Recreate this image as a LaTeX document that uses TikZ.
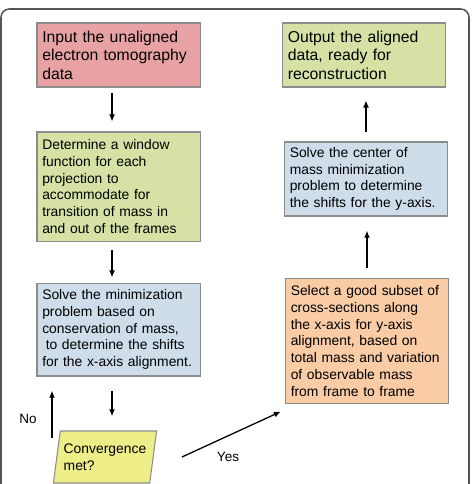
\documentclass[tikz,border=0pt]{standalone}
\usepackage{fontspec}
\setmainfont{Liberation Sans}
\usetikzlibrary{shapes.geometric,arrows.meta,positioning,calc}
\hyphenpenalty=10000
\definecolor{inred}{RGB}{233,162,163}
\definecolor{stepgreen}{RGB}{214,225,166}
\definecolor{stepblue}{RGB}{207,221,235}
\definecolor{steporange}{RGB}{249,204,166}
\definecolor{convyellow}{RGB}{238,238,136}
\definecolor{boxgray}{RGB}{140,140,140}
\definecolor{framegray}{RGB}{85,85,85}
\tikzset{
  box/.style={rectangle, draw=boxgray, line width=0.9pt, align=left,
              inner xsep=4.5pt, text width=129.6pt,
              font=\fontsize{11.8}{14.2}\selectfont},
  bigbox/.style={box, font=\fontsize{13.4}{15.7}\selectfont},
  dec/.style={trapezium, trapezium left angle=79, trapezium right angle=101,
              trapezium stretches=true, draw=boxgray, line width=0.9pt, fill=convyellow,
              align=left, inner xsep=2pt, minimum width=88.4pt, minimum height=44.2pt,
              font=\fontsize{11.8}{14.2}\selectfont},
  arr/.style={-{Latex[length=6pt,width=5pt]}, line width=1.1pt},
  lbl/.style={font=\fontsize{11.5}{13}\selectfont}
}

\begin{document}
\begin{tikzpicture}[x=0.85pt,y=-0.85pt]
  \useasboundingbox (0,0) rectangle (472,484);
  \draw[framegray, line width=1.3pt, rounded corners=7pt] (1,9) rectangle (469,510);
  % left column
  \node[bigbox, fill=inred, minimum height=54.4pt] (in) at (118.5,55)
    {Input the unaligned\\electron tomography\\data};
  \node[box, fill=stepgreen, minimum height=92.7pt] (win) at (118.5,186.5)
    {Determine a window\\function for each\\projection to\\accommodate for\\transition of mass in\\and out of the frames};
  \node[box, fill=stepblue, minimum height=79pt] (solx) at (118.5,329.5)
    {Solve the minimization\\problem based on\\conservation of mass,\\\hspace*{3pt}to determine the shifts\\for the x-axis alignment.};
  \node[dec] (conv) at (105,457) {Convergence\\met?};
  % right column
  \node[bigbox, fill=stepgreen, minimum height=54.4pt] (out) at (364,55)
    {Output the aligned\\data, ready for\\reconstruction};
  \node[box, fill=stepblue, minimum height=62.9pt] (soly) at (366,179)
    {Solve the center of\\mass minimization\\problem to determine\\the shifts for the y-axis.};
  \node[box, fill=steporange, minimum height=107pt] (sel) at (367,341)
    {Select a good subset of\\cross-sections along\\the x-axis for y-axis\\alignment, based on\\total mass and variation\\of observable mass\\from frame to frame};
  \node[lbl] (no) at (28,419) {No};
  \node[lbl] (yes) at (228,457) {Yes};
  \coordinate (back) at (52,438);
  % connectors
  \draw[arr, shorten <=5pt, shorten >=8.5pt] ([xshift=-5.5pt]in.south) -- ([xshift=-5.5pt]win.north);
  \draw[arr, shorten <=6.8pt, shorten >=4.3pt] ([xshift=-5.5pt]win.south) -- ([xshift=-5.5pt]solx.north);
  \draw[arr, shorten <=12pt, shorten >=12pt] ([xshift=-5.5pt]solx.south) -- ([xshift=-5.5pt]solx.south |- conv.north);
  \draw[arr, shorten >=12pt] (back) -- (back |- solx.south);
  \draw[arr] ([xshift=24pt]conv.east) -- ([xshift=-3.4pt,yshift=-6pt]sel.south west);
  \draw[arr, shorten <=8.5pt, shorten >=12pt] (sel.north) -- (sel.north |- soly.south);
  \draw[arr, shorten <=7.7pt, shorten >=11pt] (soly.north) -- (soly.north |- out.south);
\end{tikzpicture}
\end{document}
